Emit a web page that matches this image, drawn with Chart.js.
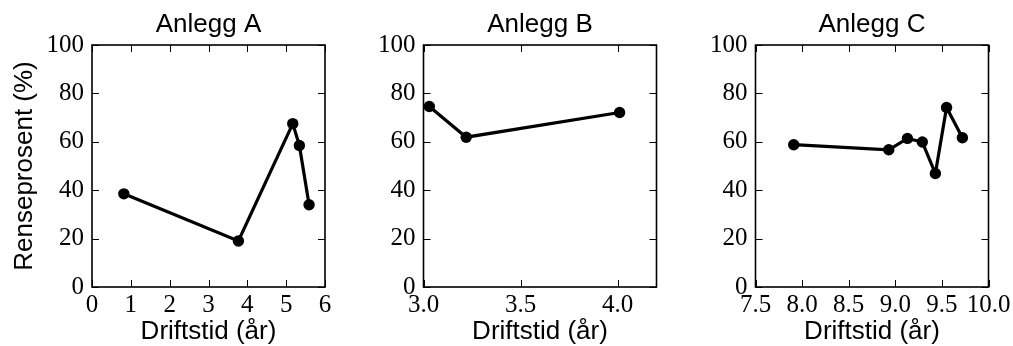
<!DOCTYPE html>
<html><head><meta charset="utf-8">
<script src="https://cdn.jsdelivr.net/npm/chart.js@4.4.1/dist/chart.umd.min.js"></script>
<style>
html,body{margin:0;padding:0;background:#fff;overflow:hidden}
#wrap{position:relative;width:1013px;height:346px;background:#fff}
canvas{position:absolute;left:0;top:0}
</style></head>
<body><div id="wrap">
<canvas id="cA" width="1013" height="346"></canvas>
<canvas id="cB" width="1013" height="346"></canvas>
<canvas id="cC" width="1013" height="346"></canvas>
</div>
<script>
// ---- data ----
const titles = ['Anlegg A', 'Anlegg B', 'Anlegg C'];
const yLabel = 'Renseprosent (%)';
const xLabel = 'Driftstid (år)';
const xA = [0.82, 3.77, 5.17, 5.34, 5.59];
const yA = [38.5, 19.0, 67.5, 58.5, 34.0];
const xB = [3.03, 3.22, 4.01];
const yB = [74.6, 61.9, 72.1];
const xC = [7.91, 8.93, 9.13, 9.29, 9.43, 9.55, 9.72];
const yC = [58.8, 56.7, 61.4, 59.9, 46.9, 74.2, 61.7];
const xTicksA = [0, 1, 2, 3, 4, 5, 6];
const xTicksB = [3.0, 3.5, 4.0];
const xTicksC = [7.5, 8.0, 8.5, 9.0, 9.5, 10.0];
const xRangeA = [0, 6];
const xRangeB = [3.0, 4.2];
const xRangeC = [7.5, 10.0];
const yTicks = [0, 20, 40, 60, 80, 100];
const yRange = [0, 100];

// ---- layout (pixels) ----
const TOP = 45, XAXIS_H = 59, W = 1013;
const panels = [
  {id: 'cA', xs: xA, ys: yA, xt: xTicksA, xr: xRangeA, dec: 0, left: 92, right: 325, yw: 92, showY: true},
  {id: 'cB', xs: xB, ys: yB, xt: xTicksB, xr: xRangeB, dec: 1, left: 423.5, right: 656.5, yw: 60, showY: false},
  {id: 'cC', xs: xC, ys: yC, xt: xTicksC, xr: xRangeC, dec: 1, left: 755.5, right: 988.5, yw: 60, showY: false}
];

const serif = "'Liberation Serif', 'Times New Roman', serif";
const sans = "'Liberation Sans', Arial, sans-serif";

const frameTicks = {
  id: 'frameTicks',
  afterDraw(chart) {
    const ctx = chart.ctx, a = chart.chartArea;
    const xs = chart.scales.x, ys = chart.scales.y;
    const L = 7;
    ctx.save();
    ctx.strokeStyle = '#000';
    ctx.lineWidth = 1;
    xs.ticks.forEach(t => {
      const p = Math.round(xs.getPixelForValue(t.value)) + 0.5;
      ctx.beginPath();
      ctx.moveTo(p, a.bottom); ctx.lineTo(p, a.bottom - L);
      ctx.moveTo(p, a.top); ctx.lineTo(p, a.top + L);
      ctx.stroke();
    });
    ys.ticks.forEach(t => {
      const p = Math.round(ys.getPixelForValue(t.value)) + 0.5;
      ctx.beginPath();
      ctx.moveTo(a.left, p); ctx.lineTo(a.left + L, p);
      ctx.moveTo(a.right, p); ctx.lineTo(a.right - L, p);
      ctx.stroke();
    });
    ctx.lineWidth = 1.6;
    ctx.strokeRect(a.left, a.top, a.right - a.left, a.bottom - a.top);
    ctx.restore();
  }
};

panels.forEach((p, i) => {
  const pts = p.xs.map((x, k) => ({x: x, y: p.ys[k]}));
  new Chart(document.getElementById(p.id), {
    type: 'scatter',
    data: {datasets: [{
      data: pts, showLine: true, borderColor: '#000', backgroundColor: '#000',
      borderWidth: 3.2, pointRadius: 5.7, pointBackgroundColor: '#000', pointBorderWidth: 0,
      clip: false
    }]},
    options: {
      responsive: false, animation: false, devicePixelRatio: 1,
      layout: {padding: {left: p.left - p.yw, right: W - p.right, top: 0, bottom: 0}},
      plugins: {
        legend: {display: false}, tooltip: {enabled: false},
        title: {display: true, text: titles[i], fullSize: false, color: '#000',
          font: {family: sans, size: 26, weight: 'normal', lineHeight: 1.2},
          padding: {top: 9.5, bottom: 4.3}}
      },
      scales: {
        x: {
          type: 'linear', min: p.xr[0], max: p.xr[1],
          grid: {display: false, drawTicks: false}, border: {display: false},
          afterBuildTicks: s => { s.ticks = p.xt.map(v => ({value: v})); },
          afterFit: s => { s.height = XAXIS_H; s.paddingLeft = 0; s.paddingRight = 0; },
          ticks: {autoSkip: false, maxRotation: 0, padding: 6, color: '#000',
            font: {family: serif, size: 25, lineHeight: 1.0},
            callback: v => Number(v).toFixed(p.dec)},
          title: {display: true, text: xLabel, color: '#000',
            font: {family: sans, size: 26, lineHeight: 1.1}, padding: {top: 0, bottom: 0}}
        },
        y: {
          type: 'linear', min: yRange[0], max: yRange[1],
          grid: {display: false, drawTicks: false}, border: {display: false},
          afterBuildTicks: s => { s.ticks = yTicks.map(v => ({value: v})); },
          afterFit: s => { s.width = p.yw; s.paddingTop = 0; s.paddingBottom = 0; },
          ticks: {autoSkip: false, padding: 8, color: '#000',
            font: {family: serif, size: 25, lineHeight: 1.0},
            callback: v => String(v)},
          title: {display: p.showY, text: yLabel, color: '#000',
            font: {family: sans, size: 26, lineHeight: 1.2}, padding: {top: 9.4, bottom: 0}}
        }
      }
    },
    plugins: [frameTicks]
  });
});
</script>
</body></html>
